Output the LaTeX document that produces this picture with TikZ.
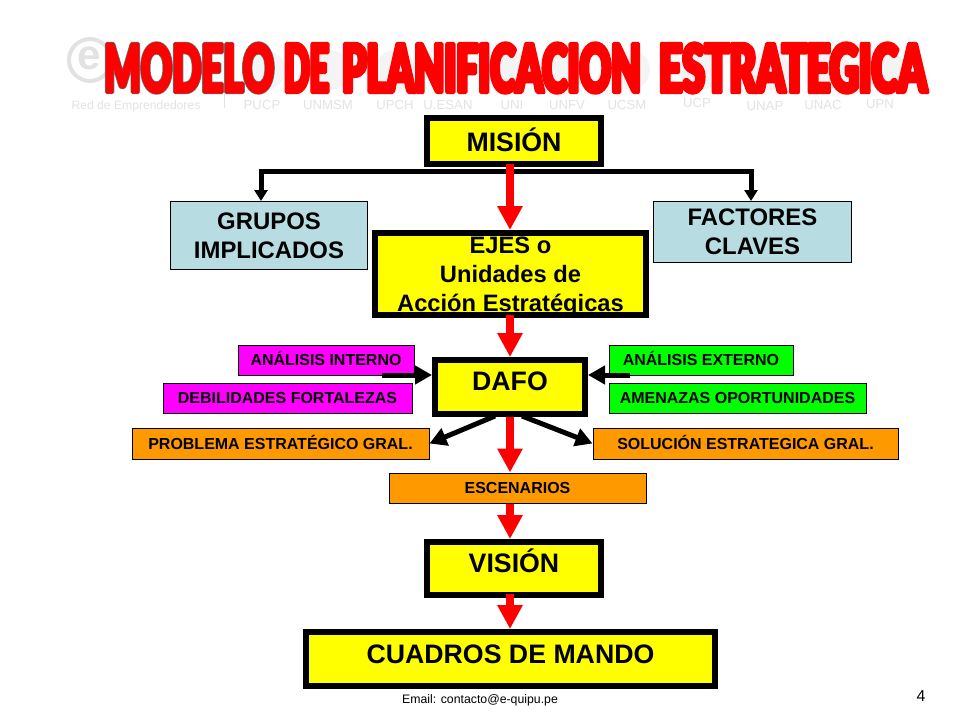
\documentclass[tikz,border=0pt]{standalone}
\usepackage{fontspec}
\setmainfont{Liberation Sans}
\newfontfamily\titlefont[FakeStretch=0.6]{Lato Black}
\usetikzlibrary{arrows.meta}
\definecolor{boxyellow}{RGB}{255,255,0}
\definecolor{boxblue}{RGB}{183,221,226}
\definecolor{boxpink}{RGB}{255,0,255}
\definecolor{boxgreen}{RGB}{0,255,0}
\definecolor{boxorange}{RGB}{255,153,0}
\definecolor{markgray}{RGB}{226,226,226}
\definecolor{crestgray}{RGB}{244,244,244}
\def\px{0.02cm}
% one word of the title, forced to a width
\def\tword#1#2{\resizebox{#1}{0.98cm}{\titlefont\fontsize{39}{39}\selectfont\vphantom{O}#2}}
\def\twords{\tword{3.4cm}{MODELO}\hspace{0.2cm}\tword{0.9cm}{DE}\hspace{0.26cm}\tword{5.98cm}{PLANIFICACION}\hspace{0.36cm}\tword{5.36cm}{ESTRATEGICA}}
\tikzset{
  bigbox/.style={draw, line width=6*\px, fill=boxyellow, font=\fontsize{15.2}{16.4}\selectfont\bfseries, align=center, inner sep=0pt},
  capline/.style={text height=10.9pt, text depth=0pt},
  sidebox/.style={draw, line width=1*\px, fill=boxblue, font=\fontsize{13.6}{16.4}\selectfont\bfseries, align=center, inner sep=0pt},
  smallbox/.style={draw, line width=1*\px, font=\fontsize{9.1}{10}\selectfont\bfseries, inner sep=0pt, text height=6.5pt, text depth=0pt},
  redarrow/.style={draw=red, line width=8*\px, -{Triangle[length=24*\px, width=24*\px]}},
  blackarrow/.style={draw=black, line width=5*\px, -{Triangle[length=17*\px, width=18*\px]}},
  uni/.style={text=markgray, inner sep=0pt, font=\fontsize{7.5}{10}\selectfont}
}
\begin{document}
\begin{tikzpicture}[x=0.02cm, y=-0.02cm]
  \useasboundingbox (0,0) rectangle (960,720);

  % faint marks behind the title
  \foreach \x in {265,330,395,450,512,570,630,700,770,830,885}
    \fill[crestgray] (\x,70) circle (20);
  \draw[markgray, line width=4*\px] (90,60) circle (21);
  \node[text=markgray, font=\fontsize{24}{24}\selectfont\bfseries] (elogo) at (89,58) {e};
  \node[uni, font=\fontsize{6.9}{7}\selectfont] (red) at (136,106) {Red de Emprendedores};
  \draw[markgray] (224,92) -- (224,108);
  \node[uni] (pucp) at (262,105) {PUCP};
  \node[uni] (unmsm) at (328,105) {UNMSM};
  \node[uni] (upch) at (395,105) {UPCH};
  \node[uni] (uesan) at (448,105) {U.ESAN};
  \node[uni] (uni) at (512,105) {UNI};
  \node[uni] (unfv) at (567,105) {UNFV};
  \node[uni] (ucsm) at (627,105) {UCSM};
  \node[uni] (ucp) at (697,103) {UCP};
  \node[uni] (unap) at (765,106) {UNAP};
  \node[uni] (unac) at (823,105) {UNAC};
  \node[uni] (upn) at (880,104) {UPN};

  % title
  \node[inner sep=0pt, text=red] (title) at (515.5,68) {\special{pdf:code 1 j 0.35 0.5 0.5 RG 2 Tr 2.3 w}\rlap{\twords}\special{pdf:code 1 0 0 RG 1.5 w}\twords\special{pdf:code 0 Tr 1 w 0 j}};

  % main column
  \node[bigbox, capline, minimum width=174*\px, minimum height=46*\px] (mision) at (514,141) {\raisebox{-0.02cm}{MISIÓN}};
  \node[bigbox, font=\fontsize{13.5}{16.4}\selectfont\bfseries, minimum width=271*\px, minimum height=82*\px] (ejes) at (510.5,274) {\raisebox{-0.18cm}[0pt][0pt]{\begin{tabular}{@{}c@{}}EJES o\\Unidades de\\Acción Estratégicas\end{tabular}}};
  \node[bigbox, capline, minimum width=150*\px, minimum height=54*\px] (dafo) at (510,387) {\raisebox{0.12cm}{DAFO}};
  \node[bigbox, capline, minimum width=174*\px, minimum height=53*\px] (vision) at (514,568.5) {\raisebox{0.11cm}{VISIÓN}};
  \node[bigbox, capline, minimum width=409*\px, minimum height=54*\px] (cuadros) at (510.5,659) {\raisebox{0.1cm}{CUADROS DE MANDO}};

  \node[sidebox, minimum width=197*\px, minimum height=68*\px] (grupos) at (269,235.5) {GRUPOS\\IMPLICADOS};
  \node[sidebox, minimum width=198*\px, minimum height=61*\px] (factores) at (752.5,232) {FACTORES\\CLAVES};

  \node[smallbox, fill=boxpink, minimum width=176*\px, minimum height=30*\px] (interno) at (326,360) {ANÁLISIS INTERNO};
  \node[smallbox, fill=boxpink, minimum width=249*\px, minimum height=30*\px] (debilidades) at (287.5,398) {DEBILIDADES FORTALEZAS};
  \node[smallbox, fill=boxorange, minimum width=297*\px, minimum height=31*\px] (problema) at (280.5,443.5) {PROBLEMA ESTRATÉGICO GRAL.};
  \node[smallbox, fill=boxgreen, minimum width=184*\px, minimum height=30*\px] (externo) at (701,360) {ANÁLISIS EXTERNO};
  \node[smallbox, fill=boxgreen, minimum width=257*\px, minimum height=30*\px] (amenazas) at (737.5,398) {AMENAZAS OPORTUNIDADES};
  \node[smallbox, fill=boxorange, minimum width=305*\px, minimum height=31*\px] (solucion) at (745.5,443.5) {SOLUCIÓN ESTRATEGICA GRAL.};
  \node[smallbox, fill=boxorange, minimum width=257*\px, minimum height=30*\px] (escenarios) at (517.5,488) {ESCENARIOS};

  % free ends of the connectors
  \coordinate (spine) at (510,171);
  \coordinate (gtop) at (261,171);
  \coordinate (ftop) at (751,171);
  \coordinate (intail) at (382,375);
  \coordinate (extail) at (630,375);
  \coordinate (probtail) at (495,416);
  \coordinate (soltail) at (522,416);

  % black arrows
  \draw[line width=5*\px, line cap=rect] (gtop) -- (ftop);
  \draw[blackarrow, -{Triangle[length=11*\px, width=13*\px]}] (gtop) -- (gtop |- grupos.north);
  \draw[blackarrow, -{Triangle[length=11*\px, width=13*\px]}] (ftop) -- (ftop |- factores.north);
  \draw[blackarrow] (intail) -- (dafo.west |- intail);
  \draw[blackarrow] (extail) -- (dafo.east |- extail);
  \draw[blackarrow] (probtail) -- (problema.east);
  \draw[blackarrow] (soltail) -- (solucion.west);

  % red arrows
  \draw[redarrow] (spine |- mision.south) ++(0,-3) -- (spine |- ejes.north);
  \draw[redarrow] (spine |- ejes.south) ++(0,-3) -- (spine |- dafo.north);
  \draw[redarrow] (spine |- dafo.south) -- (spine |- escenarios.north);
  \draw[redarrow] (spine |- escenarios.south) -- (spine |- vision.north);
  \draw[redarrow] (spine |- vision.south) ++(0,-4) -- (spine |- cuadros.north);

  % footer
  \node[font=\fontsize{7}{8}\selectfont] (email) at (480,700) {Email: contacto@e-quipu.pe};
  \node[font=\fontsize{9}{10}\selectfont] (page) at (921,696) {4};
\end{tikzpicture}
\end{document}
